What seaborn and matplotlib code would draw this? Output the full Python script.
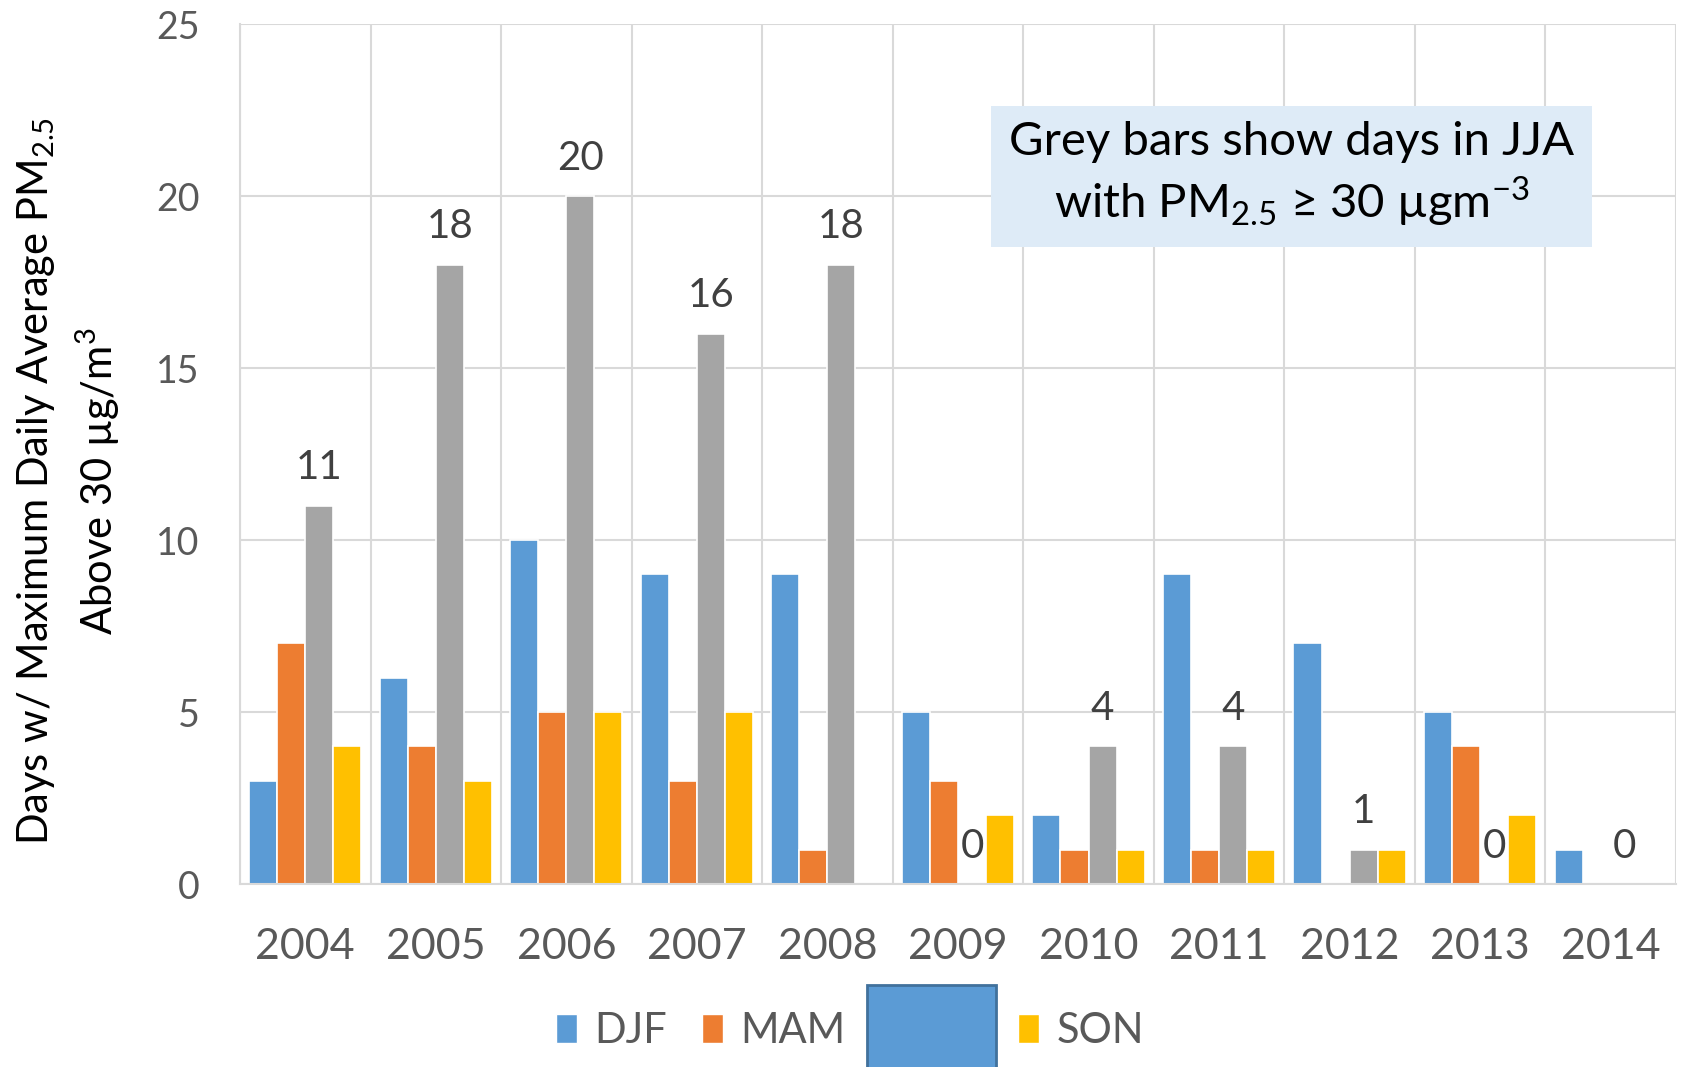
import pandas as pd
import numpy as np
import matplotlib
matplotlib.use("Agg")
import matplotlib.pyplot as plt
import matplotlib.patches as mpatches
import seaborn as sns

# data
years = ['2004', '2005', '2006', '2007', '2008', '2009', '2010', '2011', '2012', '2013', '2014']
seasons = ['DJF', 'MAM', 'JJA', 'SON']
djf = [3, 6, 10, 9, 9, 5, 2, 9, 7, 5, 1]
mam = [7, 4, 5, 3, 1, 3, 1, 1, 0, 4, 0]
jja = [11, 18, 20, 16, 18, 0, 4, 4, 1, 0, 0]
son = [4, 3, 5, 5, 0, 2, 1, 1, 1, 2, 0]
colors = ['#5B9BD5', '#ED7D31', '#A5A5A5', '#FFC000']

df = pd.DataFrame({'Year': years * 4,
                   'Season': np.repeat(seasons, len(years)),
                   'Days': djf + mam + jja + son})

sns.set_style('white')
plt.rcParams['font.family'] = ['Lato', 'DejaVu Sans']

fig = plt.figure(figsize=(16.83, 10.67), dpi=100)
ax = fig.add_axes([0.1426, 0.1715, 0.8532, 0.806])

sns.barplot(data=df, x='Year', y='Days', hue='Season', hue_order=seasons,
            palette=colors, saturation=1, width=0.86, edgecolor='white',
            linewidth=1.2, legend=False, ax=ax)

# JJA counts written over the grey bars
ax.bar_label(ax.containers[2], padding=14, fontsize=29, color='#404040')

ax.set_ylim(0, 25)
ax.set_xlim(-0.5, len(years) - 0.5)
ax.set_yticks(range(0, 26, 5))
ax.set_xticks(np.arange(len(years) + 1) - 0.5, minor=True)
ax.grid(axis='y', which='major', color='#D9D9D9', lw=1.5)
ax.grid(axis='x', which='minor', color='#D9D9D9', lw=1.5)
ax.set_axisbelow(True)
for s in ['top', 'right']:
    ax.spines[s].set_visible(False)
for s in ['left', 'bottom']:
    ax.spines[s].set_color('#D9D9D9')
    ax.spines[s].set_linewidth(1.5)
ax.tick_params(axis='y', length=0, pad=29, labelsize=27, labelcolor='#595959')
ax.tick_params(axis='x', which='both', length=0, pad=32, labelsize=31, labelcolor='#595959')

ax.set_xlabel('')
ax.set_ylabel('Days w/ Maximum Daily Average PM$_{\\mathregular{2.5}}$\nAbove 30 µg/m$^{\\mathregular{3}}$',
              fontsize=30, color='black', linespacing=1.4, va='center')
ax.yaxis.set_label_coords(-0.1195, 0.4686)

ax.text(0.7326, 0.8244,
        'Grey bars show days in JJA\nwith PM$_{\\mathregular{2.5}}$ \u2265 30 \u00b5gm$^{\\mathregular{-3}}$',
        transform=ax.transAxes, ha='center', va='center', fontsize=34,
        color='black', linespacing=1.25,
        bbox=dict(boxstyle='square,pad=0.38', facecolor='#DEEBF7', edgecolor='none'))


class BigSwatch:
    # the JJA legend key is drawn as an oversized box, as in the original
    def legend_artist(self, legend, orig_handle, fontsize, handlebox):
        x0, y0 = handlebox.xdescent, handlebox.ydescent
        h = handlebox.height
        px = 0.72
        rect = mpatches.Rectangle((-x0 - 14 * px, -y0 - 45 * px), 129 * px, h + 74 * px,
                                  facecolor=colors[0], edgecolor='#41719C', lw=2,
                                  transform=handlebox.get_transform())
        handlebox.add_artist(rect)
        return rect


handles = [mpatches.Patch(facecolor=c) for c in colors]
leg = ax.legend(handles, seasons, loc='center', bbox_to_anchor=(0.505, 0.034),
                bbox_transform=fig.transFigure, ncol=4, frameon=False,
                fontsize=30, handlelength=0.5, handleheight=0.69,
                handletextpad=0.42, columnspacing=0.85,
                handler_map={handles[2]: BigSwatch()})
for t in leg.get_texts():
    t.set_color('#595959')
leg.get_texts()[2].set_color('none')

fig.savefig('out.png', dpi=100)
